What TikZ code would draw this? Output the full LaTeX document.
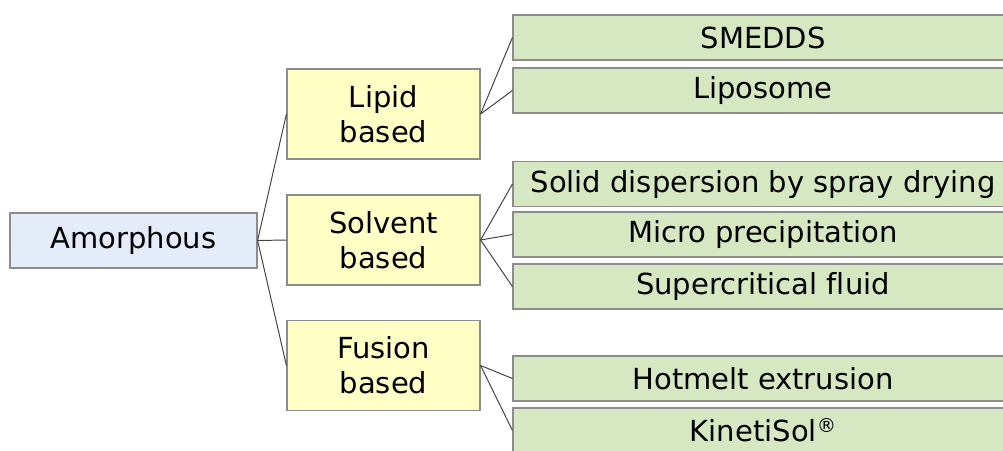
\documentclass[tikz,border=0pt]{standalone}
\usepackage{fontspec}
\setmainfont[Ligatures=NoCommon]{DejaVu Sans}
\usepackage{xcolor}
\usetikzlibrary{positioning}
\definecolor{rootblue}{HTML}{E3ECF8}
\definecolor{midyellow}{HTML}{FFFFC6}
\definecolor{leafgreen}{HTML}{D5E8C2}
\definecolor{edgegray}{HTML}{8C8C8C}
\tikzset{
    rootbox/.style={rectangle, draw=edgegray, line width=0.7pt, fill=rootblue, minimum width=4.94cm, minimum height=1.1cm, font=\fontsize{16.5}{20}\selectfont},
    groupbox/.style={rectangle, draw=edgegray, line width=0.7pt, fill=midyellow, text width=3.6cm, align=center, minimum width=3.86cm, minimum height=1.8cm, font=\fontsize{16.5}{20}\selectfont},
    leafbox/.style={rectangle, draw=edgegray, line width=0.7pt, fill=leafgreen, minimum width=10cm, minimum height=0.9cm, inner sep=0pt, font=\fontsize{16.5}{20}\selectfont},
    link/.style={draw=black!75, line width=0.55pt},
}

\begin{document}
\begin{tikzpicture}[x=0.02cm, y=-0.02cm]
    \clip (0,0) rectangle (1003,450);

    % ROOT
    \node[rootbox] (amorph) at (133.5,240.5) {Amorphous};

    % GROUPS
    \node[groupbox] (lipid) at (383.5,114) {Lipid\\based};
    \node[groupbox] (solvent) at (383.5,240) {Solvent\\based};
    \node[groupbox] (fusion) at (383.5,365.5) {Fusion\\based};

    % LEAVES
    \node[leafbox] (smedds) at (763,37.5) {SMEDDS};
    \node[leafbox] (liposome) at (763,90.5) {Liposome};
    \node[leafbox] (spray) at (763,184) {Solid dispersion by spray drying};
    \node[leafbox] (microp) at (763,234.5) {Micro precipitation};
    \node[leafbox] (scf) at (763,286.5) {Supercritical fluid};
    \node[leafbox] (hotmelt) at (763,378.5) {Hotmelt extrusion};
    \node[leafbox] (kineti) at (763,430.5) {KinetiSol\raisebox{0.55ex}{\fontsize{11}{11}\selectfont ®}};

    % Links
    \draw[link] (amorph.east) -- (lipid.west);
    \draw[link] (amorph.east) -- (solvent.west);
    \draw[link] (amorph.east) -- (fusion.west);
    \draw[link] (lipid.east) -- (smedds.west);
    \draw[link] (lipid.east) -- (liposome.west);
    \draw[link] (solvent.east) -- (spray.west);
    \draw[link] (solvent.east) -- (microp.west);
    \draw[link] (solvent.east) -- (scf.west);
    \draw[link] (fusion.east) -- (hotmelt.west);
    \draw[link] (fusion.east) -- (kineti.west);

\end{tikzpicture}
\end{document}
